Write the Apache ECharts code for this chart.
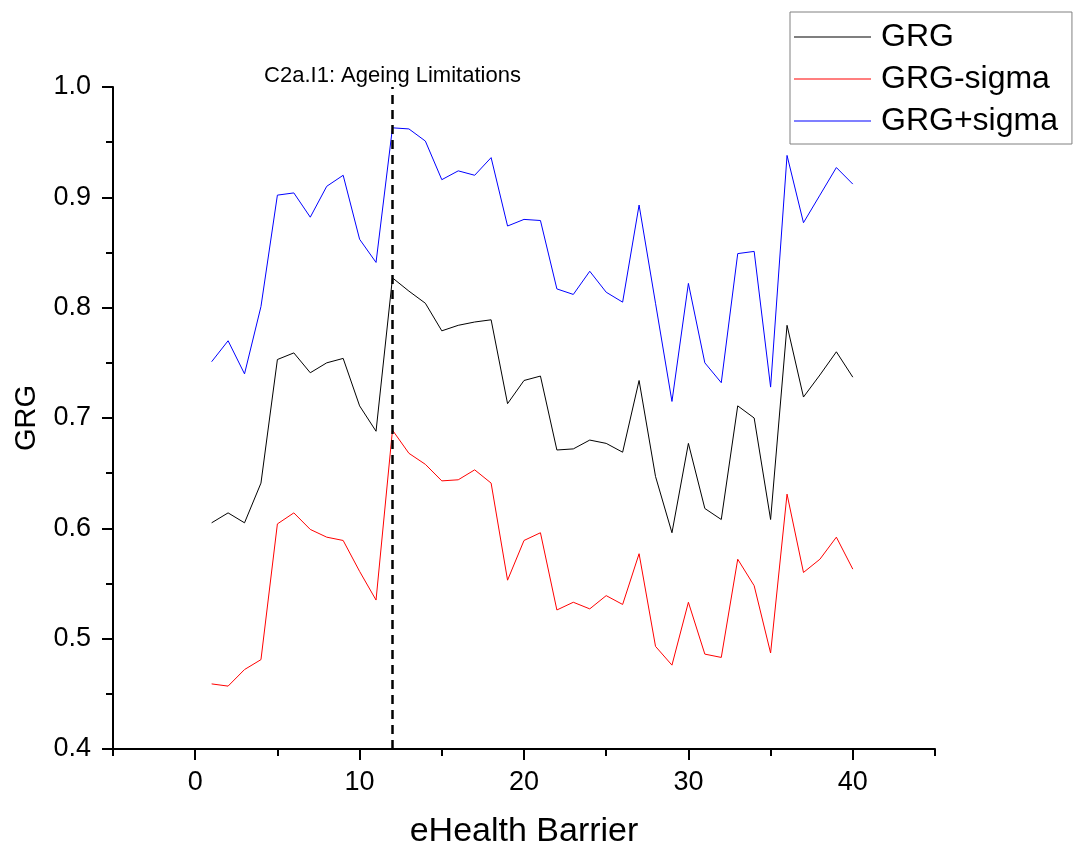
<!DOCTYPE html>
<html>
<head>
<meta charset="UTF-8">
<title>GRG</title>
<style>
	html,body{margin:0;padding:0;background:#fff;}
	#main{width:1076px;height:848px;}
</style>
</head>
<body>
<div id="main"></div>
<script type="text/javascript" src="https://cdn.jsdelivr.net/npm/echarts@6/dist/echarts.min.js"></script>
<script type="text/javascript">
// eHealth barriers 1..40
var barriers = [1,2,3,4,5,6,7,8,9,10,11,12,13,14,15,16,17,18,19,20,
	21,22,23,24,25,26,27,28,29,30,31,32,33,34,35,36,37,38,39,40];
var grg = [0.605,0.614,0.605,0.641,0.753,0.759,0.741,0.750,0.754,0.711,
	0.688,0.827,0.815,0.804,0.779,0.784,0.787,0.789,0.713,0.734,
	0.738,0.671,0.672,0.680,0.677,0.669,0.734,0.647,0.596,0.677,
	0.618,0.608,0.711,0.700,0.608,0.784,0.719,0.739,0.760,0.737];
var grgMinus = [0.459,0.457,0.472,0.481,0.604,0.614,0.599,0.592,0.589,0.561,
	0.535,0.689,0.668,0.658,0.643,0.644,0.653,0.641,0.553,0.589,
	0.596,0.526,0.533,0.527,0.539,0.531,0.577,0.493,0.476,0.533,
	0.486,0.483,0.572,0.548,0.487,0.631,0.560,0.572,0.592,0.563];
var grgPlus = [0.751,0.770,0.740,0.801,0.902,0.904,0.882,0.910,0.920,0.862,
	0.841,0.963,0.962,0.951,0.916,0.924,0.920,0.936,0.874,0.880,
	0.879,0.817,0.812,0.833,0.814,0.805,0.893,0.804,0.715,0.822,
	0.750,0.732,0.849,0.851,0.728,0.938,0.877,0.902,0.927,0.912];
var xLabels = [0,10,20,30,40];
var markBarrier = 12;
var markText = 'C2a.I1: Ageing Limitations';

function pairs(vals){
	var out = [];
	for(var i=0;i<barriers.length;i++){
		out.push([barriers[i], vals[i]]);
	}
	return out;
}

var font = "'Liberation Sans', Arial, sans-serif";
var myChart = echarts.init(document.getElementById('main'));
myChart.setOption({
	animation:false,
	textStyle:{fontFamily:font},
	grid:{left:113,top:87,width:822,height:662,outerBoundsMode:'none'},
	legend:{
		orient:'vertical',
		left:790,
		top:12,
		icon:'rect',
		itemWidth:77,
		itemHeight:1,
		itemGap:8,
		padding:[8,14,6,4],
		borderColor:'#808080',
		borderWidth:1,
		textStyle:{fontSize:32,lineHeight:34,color:'#000',padding:[0,0,0,5],fontFamily:font},
		data:['GRG','GRG-sigma','GRG+sigma']
	},
	xAxis:[{
		// line + ticks: short at -5,5,..,45, long (minor) at 0,10,..,40
		type:'value',
		min:-5,
		max:45,
		interval:10,
		position:'bottom',
		axisLine:{show:true,onZero:false,lineStyle:{color:'#000',width:2}},
		axisTick:{show:true,length:7,lineStyle:{color:'#000',width:2}},
		minorTick:{show:true,splitNumber:2,length:11,lineStyle:{color:'#000',width:2}},
		axisLabel:{show:false},
		splitLine:{show:false},
		name:'eHealth Barrier',
		nameLocation:'middle',
		nameGap:66,
		nameTextStyle:{fontSize:34,color:'#000',fontFamily:font}
	},{
		// labels only
		type:'value',
		min:-5,
		max:45,
		position:'bottom',
		axisLine:{show:false,onZero:false},
		axisTick:{show:false},
		axisLabel:{show:true,customValues:xLabels,fontSize:27,margin:20,color:'#000',fontFamily:font},
		splitLine:{show:false}
	}],
	yAxis:[{
		type:'value',
		min:0.4,
		max:1.0,
		interval:0.1,
		position:'left',
		axisLine:{show:true,onZero:false,lineStyle:{color:'#000',width:2}},
		axisTick:{show:true,length:11,lineStyle:{color:'#000',width:2}},
		minorTick:{show:true,splitNumber:2,length:7,lineStyle:{color:'#000',width:2}},
		axisLabel:{show:false},
		splitLine:{show:false},
		name:'GRG',
		nameLocation:'middle',
		nameGap:72,
		nameTextStyle:{fontSize:29,color:'#000',fontFamily:font}
	},{
		type:'value',
		min:0.4,
		max:1.0,
		interval:0.1,
		position:'left',
		axisLine:{show:false,onZero:false},
		axisTick:{show:false},
		axisLabel:{fontSize:27,margin:22,color:'#000',fontFamily:font,
			formatter:function(v){return v.toFixed(1);}},
		splitLine:{show:false}
	}],
	series:[{
		name:'GRG',
		type:'line',
		symbol:'none',
		color:'#000',
		lineStyle:{width:1,color:'#000'},
		data:pairs(grg),
		markLine:{
			silent:true,
			symbol:['none','none'],
			lineStyle:{color:'#000',width:2.5,type:[9,6]},
			label:{show:true,position:'end',distance:0,formatter:markText,
				fontSize:22,color:'#000',fontFamily:font},
			data:[{xAxis:markBarrier}]
		}
	},{
		name:'GRG-sigma',
		type:'line',
		symbol:'none',
		color:'#ff0000',
		lineStyle:{width:1,color:'#ff0000'},
		data:pairs(grgMinus)
	},{
		name:'GRG+sigma',
		type:'line',
		symbol:'none',
		color:'#0000ff',
		lineStyle:{width:1,color:'#0000ff'},
		data:pairs(grgPlus)
	}]
});
</script>
</body>
</html>
